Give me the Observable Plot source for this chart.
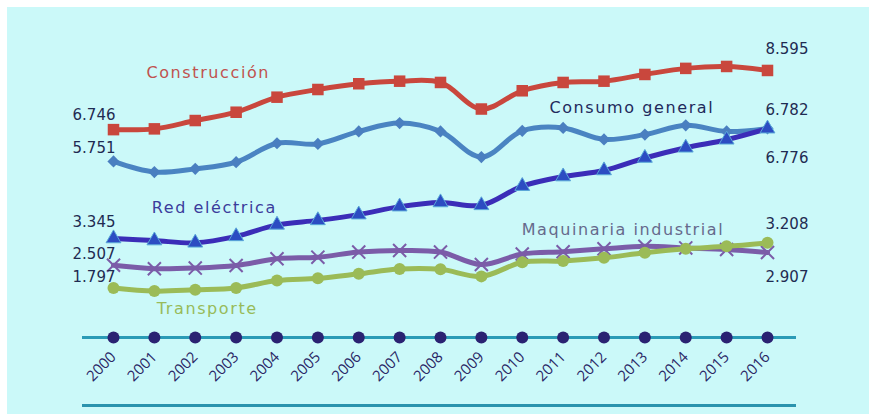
<!DOCTYPE html>
<html><head><meta charset="utf-8">
<script src="https://cdn.jsdelivr.net/npm/d3@7"></script>
<script src="https://cdn.jsdelivr.net/npm/@observablehq/plot@0.6"></script>
<style>
body{margin:0;background:#ffffff;}
#chart{position:absolute;left:7px;top:7px;width:862px;height:407px;background:#cbf9f9;}
#chart svg{background:transparent;display:block;}
</style></head><body><div id="chart"></div>
<script>
const years = [2000,2001,2002,2003,2004,2005,2006,2007,2008,2009,2010,2011,2012,2013,2014,2015,2016];
const construccion   = [6.746,6.77,7.03,7.29,7.76,8.00,8.18,8.26,8.22,7.39,7.96,8.22,8.26,8.47,8.66,8.72,8.595];
const consumoGeneral = [5.751,5.42,5.52,5.73,6.32,6.30,6.69,6.95,6.69,5.89,6.71,6.80,6.44,6.59,6.88,6.69,6.782];
const redElectrica   = [3.345,3.28,3.21,3.41,3.77,3.91,4.09,4.34,4.47,4.38,4.98,5.28,5.47,5.86,6.18,6.43,6.776];
const maquinaria     = [2.507,2.40,2.42,2.50,2.71,2.76,2.92,2.97,2.92,2.53,2.86,2.93,3.02,3.10,3.05,3.00,2.907];
const transporte     = [1.797,1.70,1.74,1.80,2.03,2.10,2.24,2.39,2.38,2.16,2.60,2.64,2.74,2.90,3.02,3.10,3.208];
const seriesNames = ["Construcción","Consumo general","Red eléctrica","Maquinaria industrial","Transporte"];
const startLabels = ["6.746","5.751","3.345","2.507","1.797"];
const endLabels   = ["8.595","6.782","6.776","2.907","3.208"];
const seriesValues = [construccion, consumoGeneral, redElectrica, maquinaria, transporte];

// styles (not data)
const styles = [
  {line:"#c9473d", mark:"#c9473d", symbol:"square",  r:6.5, label:"#c0524e", at:2002, ldx:13, ldy:-48, sdy:-14, edy:-21},
  {line:"#4a84c2", mark:"#4a7fc0", symbol:"diamond2",r:5.5, label:"#1f2a5c", at:2013, ldx:-13, ldy:-27, sdy:-13, edy:-18},
  {line:"#3b2db8", mark:"#2c4cc2", symbol:"triangle",r:5.5, label:"#3b3c9c", at:2002, ldx:19, ldy:-35, sdy:-16, edy:30, mstroke:"#58a6d8"},
  {line:"#7b5ca8", mark:"#7b5ca8", symbol:"times",   r:6,   label:"#666a8c", at:2012, ldx:19, ldy:-19, sdy:-11, edy:25, stroke:true},
  {line:"#9bbb57", mark:"#9bbb57", symbol:"circle",  r:6,   label:"#98bb5a", at:2002, ldx:12, ldy:19, sdy:-11, edy:-19}
];

const rows = seriesNames.flatMap((name, i) => years.map((year, j) => ({name, i, year, value: seriesValues[i][j]})));

const marks = [
  Plot.ruleY([0], {dy: -8, stroke: "#2a9bb6", strokeWidth: 3, insetLeft: -31, insetRight: -29}),
  Plot.ruleY([0], {dy: 60, stroke: "#2a93ad", strokeWidth: 3, insetLeft: -31, insetRight: -29}),
  Plot.dot(years, {x: d => d, y: () => 0, dy: -8, r: 6, fill: "#2a2272"}),
  Plot.axisX(years, {tickRotate: -45, tickSize: 0, tickPadding: 9, dx: 0, fontSize: 15, fontFamily: "Open Sans", fill: "#2a2766", tickFormat: d => String(d), label: null})
];

seriesNames.forEach((name, i) => {
  const s = styles[i];
  const data = rows.filter(d => d.i === i);
  marks.push(Plot.line(data, {x: "year", y: "value", stroke: s.line, strokeWidth: 5, curve: "catmull-rom"}));
  if (s.stroke) {
    marks.push(Plot.dot(data, {x: "year", y: "value", symbol: s.symbol, r: s.r, stroke: s.mark, strokeWidth: 2}));
  } else {
    marks.push(Plot.dot(data, {x: "year", y: "value", symbol: s.symbol, r: s.r, fill: s.mark, stroke: s.mstroke || "none", strokeWidth: s.mstroke ? 1 : 0}));
  }
  marks.push(Plot.text(data.filter(d => d.year === s.at), {x: "year", y: "value", text: () => name, dx: s.ldx, dy: s.ldy, fill: s.label, fontSize: 16, fontFamily: "DejaVu Sans", textAnchor: "middle"}));
  marks.push(Plot.text(data.filter(d => d.year === years[0]), {x: "year", y: "value", text: () => startLabels[i], dx: 2, dy: s.sdy, fill: "#1f2b52", fontSize: 15, fontFamily: "DejaVu Sans", textAnchor: "end"}));
  marks.push(Plot.text(data.filter(d => d.year === years[years.length - 1]), {x: "year", y: "value", text: () => endLabels[i], dx: -2, dy: s.edy, fill: "#1f2b52", fontSize: 15, fontFamily: "DejaVu Sans", textAnchor: "start"}));
});

const chart = Plot.plot({
  width: 862,
  height: 407,
  marginLeft: 106,
  marginRight: 102,
  marginTop: 18,
  marginBottom: 69,
  style: {background: "transparent"},
  x: {domain: [2000, 2016], axis: null},
  y: {domain: [0, 10], axis: null},
  marks
});
d3.select(chart).selectAll("text").filter(function() { return seriesNames.includes(this.textContent); }).style("letter-spacing", "1.6px");
document.getElementById("chart").appendChild(chart);
</script></body></html>
